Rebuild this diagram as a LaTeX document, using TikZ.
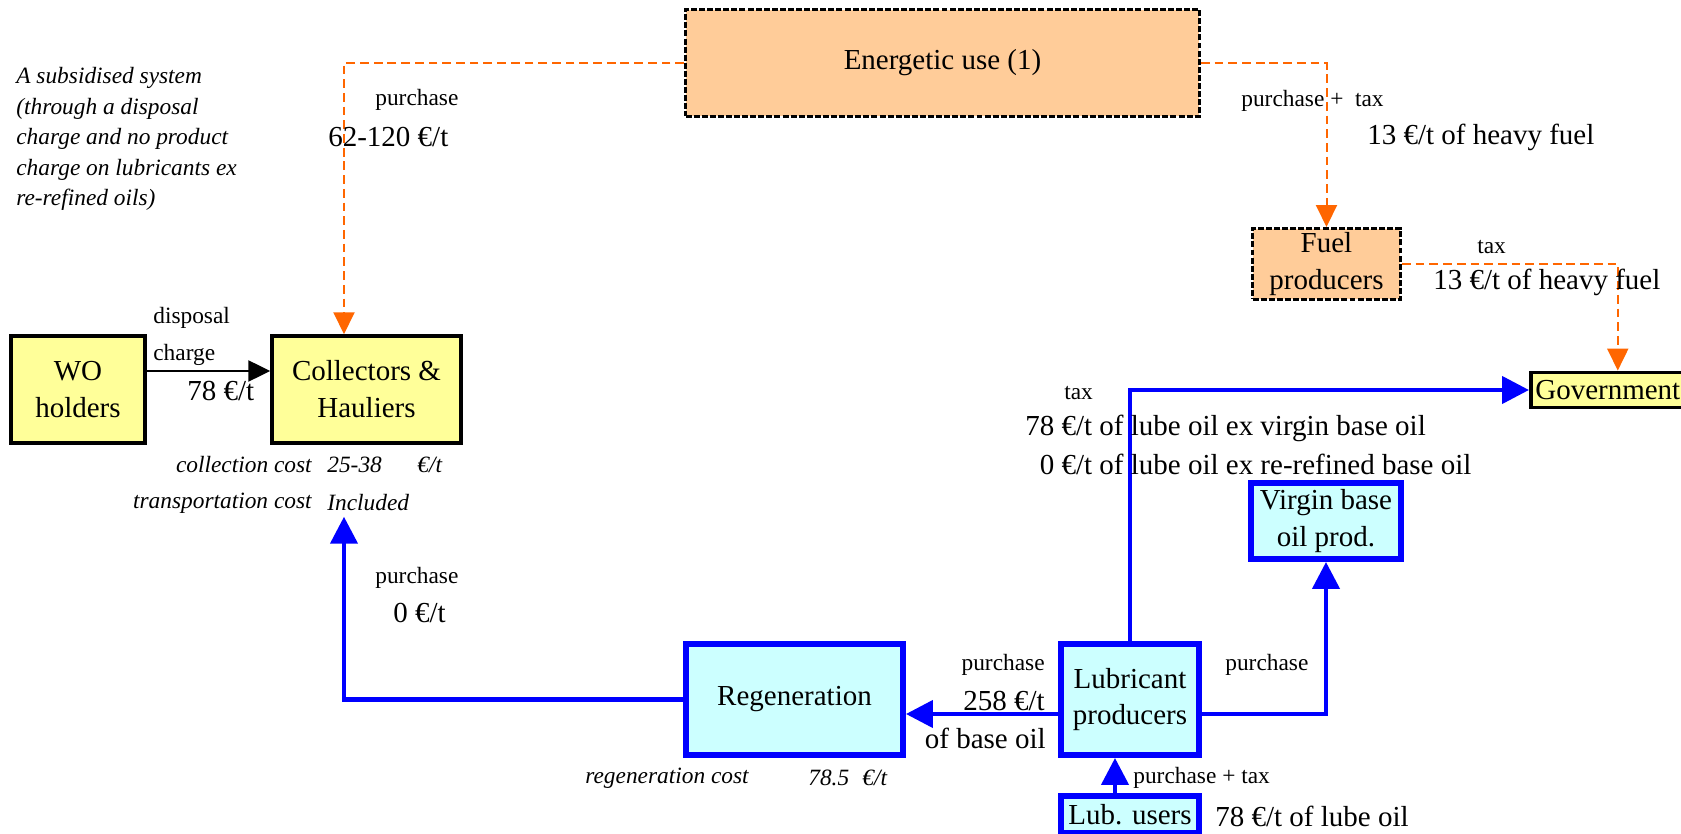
\documentclass[tikz,border=0pt]{standalone}
\usepackage{fontspec}
\setmainfont{Liberation Serif}
\usetikzlibrary{arrows.meta, calc}

\definecolor{cfuel}{HTML}{FFCC99}
\definecolor{cpay}{HTML}{FFFF99}
\definecolor{club}{HTML}{CCFFFF}
\definecolor{corg}{HTML}{FF6600}
\definecolor{cblu}{HTML}{0000FF}

\newcommand{\fbig}{\fontsize{16.5}{21}\selectfont}
\newcommand{\fsml}{\fontsize{13.3}{17.4}\selectfont}

\begin{document}
\begin{tikzpicture}[x=0.02cm, y=-0.02cm,
  fbox/.style={draw=black, line width=1.7pt, dash pattern=on 3.4pt off 1.2pt,
               fill=cfuel, font=\fbig, align=center, inner sep=1pt},
  ybox/.style={draw=black, line width=2pt, fill=cpay, font=\fbig,
               align=center, inner sep=1pt},
  lbox/.style={draw=cblu, line width=3.4pt, fill=club, font=\fbig,
               align=center, inner sep=1pt},
  big/.style={font=\fbig, inner sep=0pt, anchor=#1},
  big/.default=center,
  sml/.style={font=\fsml, inner sep=0pt, anchor=#1},
  sml/.default=center,
  cost/.style={font=\fsml\itshape, inner sep=0pt, anchor=#1},
  cost/.default=center,
  oarr/.style={-{Triangle[length=0.44cm, width=0.42cm]}, corg, line width=1.15pt,
               dash pattern=on 5pt off 2.8pt},
  barr/.style={-{Triangle[length=0.54cm, width=0.54cm]}, cblu, line width=2.5pt},
  karr/.style={-{Triangle[length=0.44cm, width=0.42cm]}, black, line width=1.4pt}
]
\useasboundingbox (0,0) rectangle (1681,834);

%% ── Actors
\node[fbox, minimum width=10.28cm, minimum height=2.14cm] (energy) at (942.5,63) {Energetic use (1)};
\node[fbox, minimum width=2.96cm, minimum height=1.42cm] (fuel) at (1326.5,264) {Fuel\\producers};
\node[ybox, line width=2.2pt, anchor=west, inner xsep=2.5pt, minimum height=0.7cm] (gov) at (1529,390) {Government};
\node[ybox, minimum width=2.68cm, minimum height=2.14cm] (wo) at (78,389.5) {WO\\holders};
\node[ybox, minimum width=3.78cm, minimum height=2.14cm] (coll) at (366.5,389.5) {Collectors \&\\Hauliers};
\node[lbox, minimum width=3.0cm, minimum height=1.52cm] (virgin) at (1326,521) {Virgin base\\oil prod.};
\node[lbox, minimum width=4.34cm, minimum height=2.22cm] (regen) at (794.5,699.5) {Regeneration};
\node[lbox, minimum width=2.76cm, minimum height=2.22cm] (lubp) at (1130,699.5) {Lubricant\\producers};
\node[lbox, minimum width=2.76cm, minimum height=0.74cm] (lubu) at (1130,814.5) {Lub. users};

%% ── Energetic use: purchase and fuel tax (dashed)
\draw[oarr] (energy.west) -| ($(coll.north)+(-22.5,0)$);
\draw[oarr] (energy.east) -| (fuel.north);
\draw[oarr] (fuel.east) -| ($(gov.north)+(10,0)$);

%% ── Disposal charge
\draw[karr] ($(wo.east)+(0,-18.5)$) -- ($(coll.west)+(0,-18.5)$);

%% ── Lubricant chain
\draw[barr] (lubp.north) |- (gov.west);
\draw[barr] ($(lubp.east)+(0,14.5)$) -| (virgin.south);
\draw[barr] ($(lubp.west)+(0,14.5)$) -- ($(regen.east)+(0,14.5)$);
\coordinate (collin) at ($(coll.south)+(-22.5,72)$);
\draw[barr] (regen.west) -| (collin);
\draw[barr] ($(lubu.north)+(-15,0)$) -- ($(lubp.south)+(-15,0)$);

%% ── Side note
\node[cost=north west, align=left] (note) at (16,67)
  {A subsidised system\\(through a disposal\\charge and no product\\charge on lubricants ex\\re-refined oils)};

%% ── Flow labels
\node[sml=west] (purE) at (375,100) {purchase};
\node[big=west] (priceE) at (328,137) {62-120 €/t};
\node[sml=west] (purF) at (1241,101) {purchase +~~tax};
\node[big=west] (taxF) at (1367,137) {13 €/t of heavy fuel};
\node[sml=west] (taxG) at (1477,247) {tax};
\node[big=west] (taxGv) at (1433,282) {13 €/t of heavy fuel};
\node[sml=west] (disp) at (153,318) {disposal};
\node[sml=west] (chg) at (153,355) {charge};
\node[big=west] (chgv) at (187,391) {78 €/t};
\node[sml=west] (purR) at (375,578) {purchase};
\node[big=west] (priceR) at (393,613) {0 €/t};
\node[sml=west] (taxL) at (1064,393) {tax};
\node[big=west] (taxLv) at (1025,428) {78 €/t of lube oil ex virgin base oil};
\node[big=west] (taxLr) at (1025,464) {\hphantom{7}0 €/t of lube oil ex re-refined base oil};
\node[sml=east] (purB) at (1045,665) {purchase};
\node[big=east] (priceB) at (1045,701) {258 €/t};
\node[big=east] (unitB) at (1046,738) {of base oil};
\node[sml=west] (purV) at (1225,665) {purchase};
\node[sml=west] (purU) at (1133,778) {purchase + tax};
\node[big=west] (taxU) at (1215,816) {78 €/t of lube oil};

%% ── Costs
\node[cost=east] (ccost) at (312,465) {collection cost};
\node[cost=west] (ccostv) at (327,465) {25-38};
\node[cost=west] (ccostu) at (417,465) {€/t};
\node[cost=east] (tcost) at (312,503) {transportation cost};
\node[cost=west] (tcostv) at (327,503) {Included};
\node[cost=west] (rcost) at (585,778) {regeneration cost};
\node[cost=west] (rcostv) at (808,778) {78.5};
\node[cost=west] (rcostu) at (862,778) {€/t};

\end{tikzpicture}
\end{document}
